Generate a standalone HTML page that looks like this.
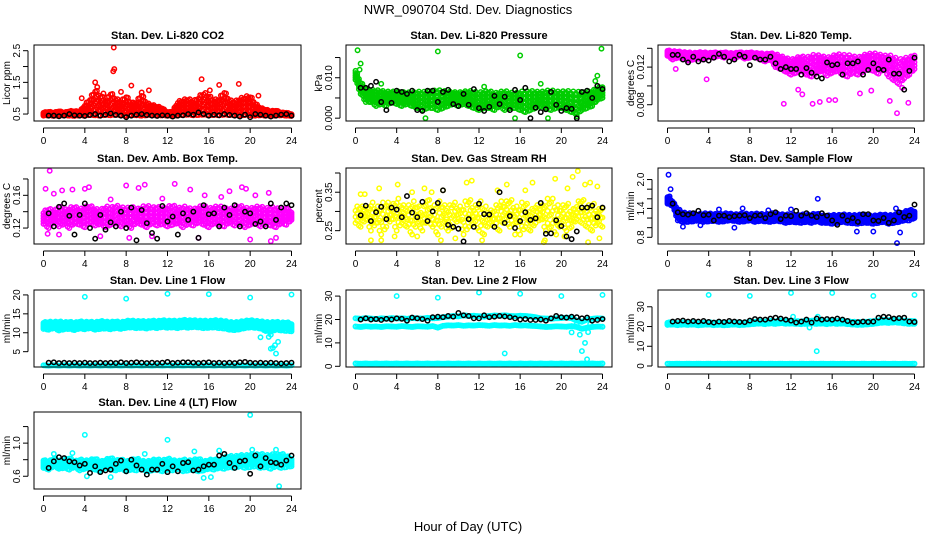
<!DOCTYPE html>
<html><head><meta charset="utf-8">
<style>
html,body{margin:0;padding:0;background:#fff;}
svg{display:block;font-family:"Liberation Sans",sans-serif;}
</style></head>
<body>
<svg id="chart" width="936" height="540" viewBox="0 0 936 540" xmlns="http://www.w3.org/2000/svg">
<rect x="0" y="0" width="936" height="540" fill="#fff"/>
<text x="468" y="14" text-anchor="middle" font-size="13">NWR_090704  Std. Dev. Diagnostics</text>
<text x="468" y="531" text-anchor="middle" font-size="13">Hour of Day (UTC)</text>
<g id="panels"></g>
</svg>
<script>
const H=[0,0.5,1,1.5,2,2.5,3,3.5,4,4.5,5,5.5,6,6.5,7,7.5,8,8.5,9,9.5,10,10.5,11,11.5,12,12.5,13,13.5,14,14.5,15,15.5,16,16.5,17,17.5,18,18.5,19,19.5,20,20.5,21,21.5,22,22.5,23,23.5,24];

// CO2
const co2A=[.45,.46,.44,.45,.46,.45,.44,.46,.45,.47,.46,.45,.47,.46,.48,.46,.45,.47,.46,.45,.46,.47,.45,.46,.45,.44,.46,.47,.48,.46,.47,.48,.46,.47,.46,.48,.47,.46,.45,.47,.46,.45,.46,.45,.44,.45,.46,.45,.44];
const co2B=[.5,.52,.5,.55,.5,.52,.55,.5,.65,.7,.75,.8,.7,.9,.8,.7,.75,.7,.65,.7,.6,.65,.6,.6,.5,.5,.7,.75,.8,.85,.8,.9,.85,.8,.85,.75,.8,.7,.75,.7,.75,.7,.6,.55,.5,.55,.5,.5,.45];
const co2C=[.55,.58,.55,.6,.55,.6,.6,.58,.8,1.0,1.3,1.1,.95,1.2,1.0,.9,1.1,.85,.9,1.15,.85,.8,.75,.7,.55,.6,.9,.95,1.0,.9,1.05,1.2,1.1,.95,1.0,1.25,.95,.9,1.0,1.05,1.1,.85,.7,.65,.6,.62,.55,.55,.5];
const co2OutX=[6.8,6.75,6.85,5,5.2,15.3,17,18.9,8.5,10.2,3.7,5.8,7.5,9.5,20.8,16.1];
const co2OutY=[2.6,1.85,1.92,1.5,1.35,1.6,1.42,1.45,1.4,1.25,1.0,1.15,1.2,1.18,1.08,1.25];
const co2K=[null,.45,.45,.43,.45,.5,.46,.45,.44,.47,.5,.45,.48,.52,.47,.45,.4,.45,.48,.5,.47,.45,.44,.46,.45,.42,.45,.46,.5,.48,.55,.5,.45,.48,.46,.5,.47,.45,.42,.48,.4,.5,.48,.45,.42,.45,.48,.5,.45];

// Pressure
const prA=[.0095,.009,.0075,.007,.007,.0068,.0066,.0066,.0066,.0065,.0064,.0064,.0066,.0065,.0066,.0068,.007,.0068,.0066,.0065,.0064,.0066,.0068,.0066,.0064,.0066,.0068,.0062,.0065,.0068,.0064,.0062,.0066,.0066,.0068,.0066,.0065,.0068,.007,.0066,.0066,.0068,.0066,.0066,.0064,.0065,.0068,.0075,.008];
const prB=[.01,.006,.004,.004,.003,.0035,.003,.004,.0035,.003,.0035,.003,.0025,.002,.0025,.0025,.002,.0025,.003,.0035,.003,.0035,.003,.0025,.002,.0025,.0025,.002,.003,.002,.0025,.0025,.002,.0015,.002,.0025,.003,.0025,.002,.0025,.0025,.002,.0015,.001,.002,.0025,.003,.0045,.005];
const prC=[.012,.008,.0055,.005,.005,.0055,.005,.0055,.005,.005,.0045,.005,.005,.0045,.004,.0045,.005,.0045,.004,.004,.0045,.0045,.004,.0045,.0035,.004,.0045,.004,.005,.004,.0045,.004,.0045,.004,.004,.0045,.005,.005,.0045,.005,.005,.004,.004,.0035,.0045,.004,.005,.006,.007];
const prOutX=[0.2,8,16,23.9,0.5,0.4,23.5,6.8,15.5,18.7,21.5,2.5,12.5,18,23.3];
const prOutY=[.0168,.0165,.0155,.0172,.0135,.012,.0105,0,0,0,.0005,.0085,.0078,.0085,.0092];
const prK=[null,.0075,.0075,.008,.009,.004,.002,.0038,.0068,.0065,.006,.0068,.002,.0018,.0068,.0068,.004,.0065,.007,.0035,.003,.006,.0033,.0072,.0025,.0018,.0028,.0055,.0035,.0053,.002,.007,.0045,.0075,0,.0026,.0015,.0022,.0065,.0033,.0018,.0025,.0023,0,.0065,.0068,.005,.008,.0072];

// Li-820 temp
const tpA=[.0138,.0137,.0137,.0136,.0136,.0135,.0136,.0136,.0135,.0136,.0135,.0136,.0135,.0135,.0136,.0135,.0136,.0135,.0135,.0134,.0135,.0134,.0132,.013,.0128,.013,.0132,.013,.0133,.0133,.0132,.013,.0132,.0134,.0133,.0133,.0132,.013,.0133,.0134,.0135,.0134,.0132,.0133,.0131,.0128,.013,.013,.0134];
const tpB=[.0132,.0128,.013,.0129,.0127,.0128,.0129,.0128,.0131,.013,.0132,.013,.0131,.0129,.0132,.0129,.013,.0131,.0128,.0126,.0128,.012,.0118,.0115,.0112,.0114,.0116,.0112,.011,.0114,.0116,.0111,.0114,.0116,.0112,.011,.0114,.0112,.0115,.0118,.0116,.0113,.0118,.011,.0106,.0102,.0108,.0112,.0118];
const tpC=[.0135,.0133,.0133,.0132,.0133,.0132,.0133,.0133,.0133,.0134,.0134,.0133,.0133,.0132,.0134,.0133,.0133,.0134,.0132,.013,.0131,.0126,.0124,.0122,.012,.0122,.0124,.0121,.012,.0124,.0124,.0122,.0124,.0126,.0123,.012,.0123,.0122,.0125,.0126,.0125,.0123,.0124,.0122,.012,.0117,.0119,.012,.0124];
const tpOutX=[3.8,11.3,12.7,13.1,15.7,16.3,14.8,22.3,21.6,23.4,18.7,14.1,19.8,22.8,0.8];
const tpOutY=[.0107,.0081,.0096,.0091,.0085,.0085,.0083,.0071,.0084,.0082,.0092,.0081,.0095,.0098,.0118];
const tpK=[null,.0133,.0133,.0128,.0125,.0131,.0126,.0128,.0127,.013,.0134,.0131,.0126,.0128,.0133,.0131,.0122,.013,.0128,.0128,.0131,.0124,.0118,.012,.0118,.0118,.0112,.0119,.0114,.011,.0108,.0125,.0122,.0123,.0112,.0124,.0124,.0126,.0112,.0117,.0124,.0118,.0117,.0128,.0113,.0113,.0096,.0116,.013];

// Amb box temp
const abA=[.14,.145,.14,.148,.142,.145,.147,.143,.146,.148,.144,.142,.147,.145,.148,.146,.144,.147,.143,.146,.148,.145,.147,.144,.146,.149,.144,.147,.145,.143,.146,.148,.144,.146,.147,.145,.143,.146,.148,.145,.144,.146,.147,.144,.146,.145,.143,.146,.14];
const abB=[.125,.12,.128,.122,.125,.12,.126,.124,.121,.127,.123,.125,.121,.124,.126,.122,.125,.12,.127,.124,.121,.126,.123,.125,.122,.124,.126,.121,.125,.123,.127,.124,.121,.126,.124,.122,.127,.123,.125,.121,.124,.126,.122,.125,.123,.121,.126,.124,.13];
const abC=[.132,.135,.13,.136,.133,.131,.136,.134,.13,.137,.133,.135,.131,.134,.136,.132,.135,.13,.137,.133,.131,.136,.134,.132,.135,.133,.137,.131,.134,.136,.132,.135,.133,.137,.134,.131,.136,.133,.135,.132,.134,.137,.133,.131,.135,.134,.132,.136,.135];
const abOutX=[.6,.2,1,1.8,2.8,4,4.4,8,9.2,9.8,12.7,14.2,15.6,18,19.2,19.6,20.5,21.8,.4,1.5,5.5,8.3,10.5,15,20,22,22.5,6.5,11.5,17.2];
const abOutY=[.19,.168,.162,.166,.167,.168,.17,.172,.169,.173,.174,.167,.16,.165,.17,.168,.16,.163,.113,.112,.11,.108,.11,.108,.106,.104,.108,.155,.156,.158];
const abK=[null,.138,.122,.146,.15,.135,.112,.136,.15,.12,.107,.136,.118,.127,.122,.14,.12,.145,.105,.142,.126,.114,.107,.147,.128,.134,.112,.138,.13,.14,.108,.148,.137,.138,.122,.145,.136,.148,.122,.14,.138,.125,.128,.122,.15,.13,.145,.15,.148];

// Gas stream RH
const rhA=[.31,.32,.3,.33,.31,.32,.33,.3,.34,.32,.31,.33,.32,.3,.34,.31,.33,.32,.31,.33,.3,.32,.34,.31,.33,.32,.3,.31,.33,.32,.34,.31,.32,.33,.3,.32,.31,.33,.34,.32,.31,.33,.3,.32,.34,.31,.33,.3,.32];
const rhB=[.27,.26,.28,.25,.27,.24,.26,.28,.25,.27,.26,.24,.27,.25,.28,.26,.24,.27,.25,.26,.28,.24,.26,.27,.25,.24,.27,.26,.25,.28,.26,.27,.24,.26,.25,.27,.28,.25,.26,.24,.27,.25,.26,.28,.27,.26,.25,.27,.26];
const rhC=[.29,.3,.28,.29,.3,.28,.29,.31,.28,.3,.29,.28,.3,.29,.28,.3,.29,.3,.28,.29,.31,.28,.3,.29,.28,.3,.29,.28,.3,.29,.28,.3,.29,.28,.3,.29,.3,.28,.29,.3,.28,.29,.3,.31,.29,.3,.28,.29,.3];
const rhOutX=[.5,.9,2.3,4.1,5.5,6.7,7.4,8.5,10.8,11.3,13.8,14.7,16.5,17.2,18.4,19.4,20.6,21.1,21.6,22.3,22.8,23.5,1.5,2.5,3.8,6,8.3,9.7,12.3,15.5,18.3,20.3,22.6,23.7];
const rhOutY=[.345,.345,.36,.37,.35,.36,.35,.355,.375,.38,.355,.37,.355,.375,.225,.385,.36,.39,.405,.37,.375,.365,.225,.225,.235,.235,.225,.23,.225,.24,.22,.235,.22,.23];
const rhK=[null,.29,.315,.275,.298,.312,.28,.31,.305,.285,.34,.297,.285,.325,.275,.3,.322,.355,.265,.26,.255,.222,.28,.26,.32,.293,.292,.26,.35,.27,.288,.257,.275,.298,.278,.282,.322,.242,.243,.277,.262,.235,.228,.248,.31,.31,.315,.285,.31];

// Sample flow
const sfA=[1.65,1.55,1.4,1.32,1.3,1.3,1.28,1.3,1.3,1.29,1.28,1.3,1.3,1.28,1.29,1.3,1.28,1.3,1.29,1.28,1.3,1.3,1.28,1.28,1.27,1.26,1.28,1.27,1.28,1.3,1.26,1.25,1.27,1.26,1.28,1.27,1.26,1.27,1.28,1.26,1.25,1.27,1.28,1.26,1.27,1.3,1.33,1.38,1.35];
const sfB=[1.5,1.45,1.15,1.12,1.12,1.13,1.15,1.12,1.13,1.14,1.12,1.13,1.15,1.14,1.12,1.13,1.15,1.12,1.14,1.13,1.12,1.14,1.13,1.1,1.12,1.11,1.1,1.12,1.1,1.13,1.1,1.1,1.08,1.1,1.12,1.1,1.09,1.08,1.1,1.1,1.08,1.1,1.12,1.08,1.1,1.12,1.15,1.15,1.2];
const sfC=[1.58,1.5,1.22,1.21,1.2,1.22,1.21,1.2,1.22,1.21,1.2,1.22,1.21,1.2,1.21,1.22,1.2,1.21,1.22,1.2,1.21,1.22,1.2,1.19,1.2,1.18,1.19,1.2,1.18,1.21,1.18,1.17,1.18,1.19,1.2,1.18,1.17,1.18,1.19,1.18,1.16,1.18,1.2,1.17,1.18,1.21,1.24,1.27,1.28];
const sfOutX=[.1,.3,.2,14.6,22.3,22.6,3.2,6.5,5,12,22.2,1.5,7.3,9.8,18.4,20];
const sfOutY=[2.1,1.8,1.65,1.6,.68,.9,1.05,1.0,1.38,1.38,1.4,1.02,1.4,1.36,.92,.92];
const sfK=[null,1.5,1.32,1.28,1.27,1.3,1.35,1.26,1.27,1.15,1.25,1.25,1.22,1.24,1.25,1.26,1.2,1.25,1.26,1.2,1.28,1.32,1.18,1.25,1.24,1.35,1.25,1.3,1.25,1.22,1.3,1.25,1.15,1.06,1.25,1.15,1.2,1.12,1.28,1.28,1.15,1.14,1.2,1.1,1.15,1.32,1.22,1.25,1.48];

// Line 1 flow
const l1A=[12.8,13,12.9,13.1,12.8,13,12.7,13.1,12.9,13,12.8,13.2,13,12.9,13.1,12.8,13.2,13.3,13.1,13.2,13,13.3,13.1,13.4,13.2,13.3,13.1,13.5,13.3,13.4,13.2,13.3,13.1,13.4,13.3,13.2,12.9,12.8,13,13.2,13.4,13.2,13.1,12.9,12.8,13,12.7,12.9,12.5];
const l1B=[11,10.8,11.2,10.6,10.9,11,10.7,11.1,10.9,11.2,10.8,11,11.1,10.9,11.2,11,11.3,11.4,11.2,11.3,11.1,11.4,11.2,11.5,11.3,11.4,11.2,11.5,11.3,11.5,11.4,11.2,11.3,11.4,11.2,11.1,10.8,10.7,10.9,11.2,11.4,11.3,11.1,10.5,10.3,10.8,10.6,10.5,10.4];
const l1C=[11.9,12,11.8,12,12.1,11.9,12,11.8,12,12.1,11.9,12.1,12,12,12.1,11.9,12.2,12.3,12.1,12.2,12,12.3,12.2,12.4,12.2,12.3,12.1,12.5,12.3,12.4,12.2,12.3,12.1,12.4,12.3,12.1,11.8,11.7,11.9,12.2,12.4,12.3,12.1,11.9,11.5,12,11.8,11.8,11.6];
const l1D=[1.4,1.3,1.4,1.3,1.4,1.3,1.4,1.3,1.4,1.3,1.4,1.3,1.4,1.3,1.4,1.3,1.4,1.3,1.4,1.3,1.4,1.3,1.4,1.3,1.4,1.3,1.4,1.3,1.4,1.3,1.4,1.3,1.4,1.3,1.4,1.3,1.4,1.3,1.4,1.3,1.4,1.3,1.4,1.3,1.4,1.3,1.4,1.3,1.4];
const l1OutX=[4,8,12,16,20,24,21,22,21.8,22.2,22,22.7,22.4,22.5,21.5,23.7];
const l1OutY=[19.5,19,20.3,20.2,19.3,20.1,8.8,9.5,8.9,6,5.8,7.6,6.7,4.5,10.5,10.8];
const l1K=[null,2.1,2.2,2,2.1,2,2.1,2,2.1,2,2,2.1,2,2.1,2,2.2,2,2.1,2.2,2.1,2,2.1,2,2.1,2.3,2,2.1,2.2,2.2,2.1,2,2.1,2.2,2,2.1,2,2.1,2,2.2,2.3,2.1,2,2.1,2,2.1,2,1.9,2,2.1];

// Line 2 flow
const l2A=[20.5,20.3,20.6,20.4,20.2,20.5,20.3,20.6,20.4,20.5,20.3,20.6,20.5,20.4,20.7,20.5,20.6,21,21.2,21.5,21.3,21.8,21.5,21.6,21.4,21.2,21.5,21.7,21.6,21.8,21.5,21.4,21.6,21.5,21.3,21,20.5,20.4,20.3,20.5,20.6,20.8,20.5,19.5,19,20,20.3,20.5,20.4];
const l2B=[17,16.8,17.1,16.9,17,16.8,17.1,17,16.9,17.2,17,16.8,17.1,17,16.9,17.2,16.5,17.3,17.5,17.4,17.6,17.3,17.5,17.4,17.6,17.5,17.3,17.6,17.4,17.5,17.3,17.6,17.4,17.5,17.3,17.2,17,16.8,16.9,17.1,17,16.9,17.2,16.8,16,16.5,16.8,17,16.9];
const l2D=[1.2,1.1,1.2,1.1,1.2,1.1,1.2,1.1,1.2,1.1,1.2,1.1,1.2,1.1,1.2,1.1,1.2,1.1,1.2,1.1,1.2,1.1,1.2,1.1,1.2,1.1,1.2,1.1,1.2,1.1,1.2,1.1,1.2,1.1,1.2,1.1,1.2,1.1,1.2,1.1,1.2,1.1,1.2,1.1,1.2,1.1,1.2,1.1,1.2];
const l2OutX=[4,8,12,16,20,24,14.5,21,21.8,22,22.3,22.5,22.6,22.8,21.5];
const l2OutY=[30,29.3,31.5,31,30,30.5,5.5,14.5,13.5,6.5,10,3,14.6,18,18];
const l2K=[null,20,20.5,20,20.2,19.8,20.3,20,20.5,20.3,19.5,20.8,20.5,20.2,19.5,21,21.2,21,21.5,21.2,22.8,21.8,21.5,20.5,20.5,21.8,21,21.2,21.5,21.3,21,20.5,20,20.2,19.8,19.8,20,19.5,20.5,21.5,21,20.8,21.2,21,20.5,20.8,19.5,19.8,20.2];

// Line 3 flow
const l3A=[22,22.3,21.8,22.2,21.9,22.1,21.8,22,22.2,21.9,22.1,21.8,22,22.2,21.9,22,22.3,22.5,22.8,22.6,23,22.7,23.2,22.9,23,22.8,22.6,22.9,23.1,22.8,23,22.7,23.2,22.9,23,22.7,22.5,22.3,22.4,22.6,22.8,23.2,23.5,23.3,23.6,23.4,23.1,22.8,22.9];
const l3B=[20.8,21,20.7,21,20.8,21,20.6,20.9,21,20.7,20.9,20.6,20.8,21,20.7,20.9,21.1,21.3,21.5,21.2,21.6,21.3,21.7,21.4,21.5,21.3,21.2,21.4,21.6,21.3,21.5,21.2,21.6,21.3,21.5,21.2,21,20.8,20.9,21.1,21.3,21.7,22,21.8,22.1,21.9,21.6,21.3,21.4];
const l3D=[1.2,1.1,1.2,1.1,1.2,1.1,1.2,1.1,1.2,1.1,1.2,1.1,1.2,1.1,1.2,1.1,1.2,1.1,1.2,1.1,1.2,1.1,1.2,1.1,1.2,1.1,1.2,1.1,1.2,1.1,1.2,1.1,1.2,1.1,1.2,1.1,1.2,1.1,1.2,1.1,1.2,1.1,1.2,1.1,1.2,1.1,1.2,1.1,1.2];
const l3OutX=[4,8,12,16,20,24,14.5,13.8,12.2,14.6];
const l3OutY=[36,35.5,37,37,35.5,36,7.5,19.5,25,25];
const l3K=[null,22.5,22.8,23,22.5,22.8,22.5,22.8,22.3,22,22.5,22.3,22.8,22.5,22.3,22.2,23,23.8,23.5,23.5,24,24.5,24,23.5,23,22,22.5,23.5,22,24,23.5,23.8,23.5,24,23.5,22.8,22,22.2,22.5,22.3,22.5,24.5,25,24.8,24,24.3,24.5,22.5,22.3];

// Line 4 (LT) flow
const l4A=[.8,.78,.82,.79,.8,.83,.78,.81,.79,.8,.82,.78,.8,.83,.79,.81,.78,.8,.82,.79,.78,.8,.81,.79,.82,.8,.78,.81,.79,.8,.82,.78,.8,.81,.79,.83,.85,.84,.86,.85,.87,.86,.88,.85,.87,.86,.88,.85,.82];
const l4B=[.7,.68,.72,.69,.7,.68,.71,.67,.69,.7,.68,.66,.7,.68,.67,.69,.66,.68,.67,.69,.66,.67,.68,.66,.68,.67,.69,.66,.67,.68,.66,.67,.69,.68,.7,.69,.71,.7,.72,.7,.71,.72,.7,.71,.69,.72,.7,.71,.72];
const l4C=[.75,.73,.77,.74,.75,.76,.74,.75,.74,.75,.76,.73,.75,.76,.73,.75,.72,.74,.75,.74,.72,.73,.74,.72,.75,.73,.74,.73,.74,.75,.73,.72,.74,.75,.74,.77,.78,.77,.79,.78,.79,.78,.8,.78,.79,.77,.8,.78,.77];
const l4OutX=[4,12,20,22.8,14.6,17,20.2,22.5,1,2.8,9.8,6.5,15.5,4.2,16.2];
const l4OutY=[1.1,1.04,1.34,.48,.9,.91,.92,.92,.87,.88,.87,.59,.58,.6,.59];
const l4K=[null,.7,.78,.83,.82,.78,.77,.73,.75,.64,.72,.65,.67,.68,.75,.79,.66,.8,.73,.68,.62,.68,.68,.75,.65,.72,.66,.76,.77,.67,.68,.72,.74,.74,.85,.87,.76,.7,.78,.79,.63,.85,.72,.82,.77,.76,.74,.79,.85];

const XT=[0,4,8,12,16,20,24];
const panels=[
 {id:'co2',title:'Stan. Dev. Li-820 CO2',ylab:'Licor ppm',col:'#ff0000',c:0,r:0,ylo:0.28,yhi:2.68,yt:[0.5,1,1.5,2,2.5],yl:['0.5',null,'1.5',null,'2.5'],groups:[[co2A,co2B,co2C]],fill:5,ox:co2OutX,oy:co2OutY,k:co2K},
 {id:'pressure',title:'Stan. Dev. Li-820 Pressure',ylab:'kPa',col:'#00cd00',c:1,r:0,ylo:-0.0007,yhi:0.0181,yt:[0,0.005,0.01,0.015],yl:['0.000',null,'0.010',null],groups:[[prA,prB,prC]],fill:5,ox:prOutX,oy:prOutY,k:prK},
 {id:'temp',title:'Stan. Dev. Li-820 Temp.',ylab:'degrees C',col:'#ff00ff',c:2,r:0,ylo:0.00627,yhi:0.01435,yt:[0.008,0.01,0.012,0.014],yl:['0.008',null,'0.012',null],groups:[[tpA,tpB,tpC]],fill:5,ox:tpOutX,oy:tpOutY,k:tpK},
 {id:'amb-box-temp',title:'Stan. Dev. Amb. Box Temp.',ylab:'degrees C',col:'#ff00ff',c:0,r:1,ylo:0.1005,yhi:0.1934,yt:[0.12,0.14,0.16,0.18],yl:['0.12',null,'0.16',null],groups:[[abA,abB,abC]],fill:5,ox:abOutX,oy:abOutY,k:abK},
 {id:'gas-rh',title:'Stan. Dev. Gas Stream RH',ylab:'percent',col:'#ffff00',c:1,r:1,ylo:0.2153,yhi:0.413,yt:[0.25,0.3,0.35,0.4],yl:['0.25',null,'0.35',null],groups:[[rhA,rhB,rhC]],fill:3,ox:rhOutX,oy:rhOutY,k:rhK},
 {id:'sample-flow',title:'Stan. Dev. Sample Flow',ylab:'ml/min',col:'#0000ff',c:2,r:1,ylo:0.661,yhi:2.24,yt:[0.8,1,1.2,1.4,1.6,1.8,2],yl:['0.8',null,null,'1.4',null,null,'2.0'],groups:[[sfA,sfB,sfC]],fill:5,ox:sfOutX,oy:sfOutY,k:sfK},
 {id:'line1-flow',title:'Stan. Dev. Line 1 Flow',ylab:'ml/min',col:'#00ffff',c:0,r:2,ylo:0.95,yhi:21.3,yt:[5,10,15,20],yl:['5','10','15','20'],groups:[[l1A,l1B,l1C],[l1D]],fill:5,ox:l1OutX,oy:l1OutY,k:l1K},
 {id:'line2-flow',title:'Stan. Dev. Line 2 Flow',ylab:'ml/min',col:'#00ffff',c:1,r:2,ylo:-0.3,yhi:32.6,yt:[0,10,20,30],yl:['0','10','20','30'],groups:[[l2A],[l2B],[l2D]],fill:5,ox:l2OutX,oy:l2OutY,k:l2K},
 {id:'line3-flow',title:'Stan. Dev. Line 3 Flow',ylab:'ml/min',col:'#00ffff',c:2,r:2,ylo:-0.5,yhi:38.5,yt:[0,10,20,30],yl:['0','10','20','30'],groups:[[l3A,l3B],[l3D]],fill:5,ox:l3OutX,oy:l3OutY,k:l3K},
 {id:'line4-flow',title:'Stan. Dev. Line 4 (LT) Flow',ylab:'ml/min',col:'#00ffff',c:0,r:3,ylo:0.446,yhi:1.376,yt:[0.6,0.8,1.0,1.2],yl:['0.6',null,'1.0',null],groups:[[l4A,l4B,l4C]],fill:5,ox:l4OutX,oy:l4OutY,k:l4K}
];
const BOXX=[[34,301],[346,612],[658,924]];
const BOXY=[[45,121],[168,244],[290,367],[412,489]];
const NS='http://www.w3.org/2000/svg';
const root=document.getElementById('panels');
function mk(tag,attrs,parent){const e=document.createElementNS(NS,tag);for(const a in attrs)e.setAttribute(a,attrs[a]);parent.appendChild(e);return e;}
panels.forEach(p=>{
 const [bx0,bx1]=BOXX[p.c],[by0,by1]=BOXY[p.r];
 const px0=bx0+9.5,px1=bx1-9.5;
 const xs=h=>px0+(h/24)*(px1-px0);
 const ys=v=>by1-(v-p.ylo)/(p.yhi-p.ylo)*(by1-by0);
 const g=mk('g',{},root);
 
 
 const t=mk('text',{x:(bx0+bx1)/2,y:by0-6,'text-anchor':'middle','font-size':'11','font-weight':'bold'},g);
 t.textContent=p.title;
 
 
 const yl=mk('text',{x:0,y:0,'text-anchor':'middle','font-size':'10',transform:`translate(${bx0-24},${(by0+by1)/2}) rotate(-90)`},g);
 yl.textContent=p.ylab;
 
 
 const xa=mk('g',{},g);
 
 
 mk('line',{x1:xs(0),x2:xs(24),y1:by1+7,y2:by1+7,stroke:'#000','stroke-width':1},xa);
 XT.forEach(v=>{
  mk('line',{x1:xs(v),x2:xs(v),y1:by1+7,y2:by1+12,stroke:'#000','stroke-width':1},xa);
  const l=mk('text',{x:xs(v),y:by1+23,'text-anchor':'middle','font-size':'10'},xa);
  l.textContent=String(v);
  
  
 });
 const ya=mk('g',{},g);
 
 
 mk('line',{x1:bx0-6,x2:bx0-6,y1:ys(p.yt[0]),y2:ys(p.yt[p.yt.length-1]),stroke:'#000','stroke-width':1},ya);
 p.yt.forEach((v,i)=>{
  mk('line',{x1:bx0-11,x2:bx0-6,y1:ys(v),y2:ys(v),stroke:'#000','stroke-width':1},ya);
  if(p.yl[i]){
   const l=mk('text',{x:0,y:0,'text-anchor':'middle','font-size':'10',transform:`translate(${bx0-14},${ys(v)}) rotate(-90)`},ya);
   l.textContent=p.yl[i];
   
   
  }
 });
 const pts=mk('g',{fill:'none','stroke-width':1.5},g);
 
 
 const dot=(h,v,color)=>{if(v===null||v===undefined)return;const y=ys(v);if(y<by0-2||y>by1+2)return;
  const c=mk('circle',{cx:xs(h),cy:y,r:2.2,stroke:color},pts);
  
  };
 // fill each group: between min and max of its bands, interpolated along hours
 const n=p.fill;
 p.groups.forEach(grp=>{
  const len=grp[0].length;
  for(let i=0;i<len;i++){
   const lo=Math.min(...grp.map(s=>s[i])),hi=Math.max(...grp.map(s=>s[i]));
   const subs=(i<len-1)?3:1;
   for(let s=0;s<subs;s++){
    const f=s/3;
    const lo2=(i<len-1)?Math.min(...grp.map(q=>q[i+1])):lo, hi2=(i<len-1)?Math.max(...grp.map(q=>q[i+1])):hi;
    const L=lo*(1-f)+lo2*f, U=hi*(1-f)+hi2*f;
    const steps=(grp.length>1)?n:1;
    for(let k=0;k<steps;k++){
     const fr=steps>1?((k+(s%2)*0.5)/(steps-0.5)):0;
     dot(H[i]+f*0.5,L+(U-L)*Math.min(fr,1),p.col);
    }
   }
  }
 });
 p.ox.forEach((h,i)=>dot(h,p.oy[i],p.col));
 p.k.forEach((v,i)=>dot(H[i],v,'#000'));
 const box=mk('rect',{x:bx0,y:by0,width:bx1-bx0,height:by1-by0,fill:'none',stroke:'#000','stroke-width':1},g);
 
 
});
</script>
</body></html>
